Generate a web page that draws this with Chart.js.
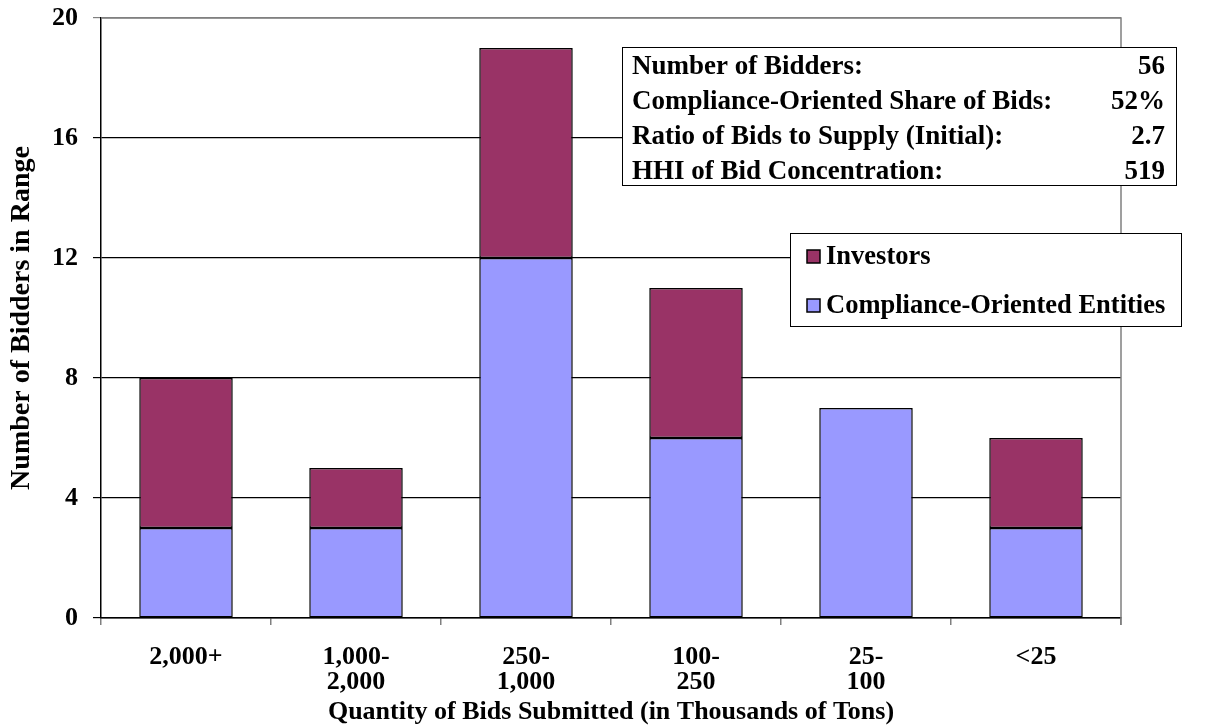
<!DOCTYPE html>
<html>
<head>
<meta charset="utf-8">
<script src="https://cdn.jsdelivr.net/npm/chart.js@4"></script>
<style>
  html, body { margin: 0; padding: 0; background: #fff; }
  #wrap { width: 1231px; height: 728px; position: relative; }
</style>
</head>
<body>
<div id="wrap"><canvas id="chart" width="1231" height="728"></canvas></div>
<script>
const categories = [['2,000+'], ['1,000-', '2,000'], ['250-', '1,000'], ['100-', '250'], ['25-', '100'], ['<25']];
const compliance = [3, 3, 12, 6, 7, 3];
const investors = [5, 2, 7, 5, 0, 3];
const yTicks = [0, 4, 8, 12, 16, 20];

const statLabels = ['Number of Bidders:', 'Compliance-Oriented Share of Bids:', 'Ratio of Bids to Supply (Initial):', 'HHI of Bid Concentration:'];
const statValues = ['56', '52%', '2.7', '519'];

const legendItems = [
  { label: 'Investors', color: '#993366' },
  { label: 'Compliance-Oriented Entities', color: '#9999FF' }
];

const FONT = "'Liberation Serif', 'Times New Roman', serif";

// plot frame, stats box and legend box
const boxesPlugin = {
  id: 'boxes',
  beforeDatasetsDraw(chart) {
    const { ctx, chartArea } = chart;
    ctx.save();
    ctx.strokeStyle = '#808080';
    ctx.lineWidth = 1.5;
    ctx.beginPath();
    ctx.moveTo(chartArea.left, chartArea.top);
    ctx.lineTo(chartArea.right, chartArea.top);
    ctx.lineTo(chartArea.right, chartArea.bottom + 7);
    ctx.stroke();
    ctx.restore();
  },
  afterDraw(chart) {
    const ctx = chart.ctx;
    ctx.save();
    ctx.textBaseline = 'middle';

    // stats box
    ctx.font = 'bold 27px ' + FONT;
    ctx.fillStyle = '#fff';
    ctx.fillRect(622, 47, 554, 138);
    ctx.strokeStyle = '#000';
    ctx.lineWidth = 1;
    ctx.strokeRect(622.5, 47.5, 554, 138);
    ctx.fillStyle = '#000';
    statLabels.forEach((t, i) => {
      const y = 67 + i * 35;
      ctx.textAlign = 'left';
      ctx.fillText(t, 632, y);
      ctx.textAlign = 'right';
      ctx.fillText(statValues[i], 1165, y);
    });

    // legend box
    ctx.font = 'bold 26.5px ' + FONT;
    ctx.fillStyle = '#fff';
    ctx.fillRect(790, 233, 391, 93);
    ctx.strokeStyle = '#000';
    ctx.lineWidth = 1;
    ctx.strokeRect(790.5, 233.5, 391, 93);
    legendItems.forEach((item, i) => {
      const y = 256 + i * 49;
      ctx.fillStyle = item.color;
      ctx.fillRect(807, y - 6, 13, 13);
      ctx.lineWidth = 1.5;
      ctx.strokeStyle = '#000';
      ctx.strokeRect(807, y - 6, 13, 13);
      ctx.fillStyle = '#000';
      ctx.textAlign = 'left';
      ctx.fillText(item.label, 826, y + 1);
    });
    ctx.restore();
  }
};

const ctx = document.getElementById('chart').getContext('2d');
new Chart(ctx, {
  type: 'bar',
  data: {
    labels: categories,
    datasets: [
      {
        label: 'Compliance-Oriented Entities',
        data: compliance,
        backgroundColor: '#9999FF',
        borderColor: '#000',
        borderWidth: 1.5,
        borderSkipped: false
      },
      {
        label: 'Investors',
        data: investors,
        backgroundColor: '#993366',
        borderColor: '#000',
        borderWidth: c => (c.raw === 0 ? 0 : 1.5),
        borderSkipped: false
      }
    ]
  },
  options: {
    responsive: false,
    animation: false,
    layout: { padding: { top: 18, right: 110, left: 0, bottom: 0 } },
    datasets: { bar: { categoryPercentage: 1, barPercentage: 0.55 } },
    plugins: {
      legend: { display: false },
      tooltip: { enabled: false }
    },
    scales: {
      x: {
        stacked: true,
        afterFit: s => { s.height = 110; s.paddingLeft = 0; s.paddingRight = 0; },
        grid: {
          offset: true,
          drawOnChartArea: false,
          tickLength: 7,
          color: '#808080',
          lineWidth: 1.5
        },
        border: { color: '#000', width: 1.5 },
        ticks: {
          color: '#000',
          font: { family: FONT, size: 26, weight: 'bold', lineHeight: 0.95 },
          padding: 20,
          maxRotation: 0
        },
        title: {
          display: true,
          text: 'Quantity of Bids Submitted (in Thousands of Tons)',
          color: '#000',
          font: { family: FONT, size: 26, weight: 'bold' },
          padding: { top: 0, bottom: 0 }
        }
      },
      y: {
        stacked: true,
        min: 0,
        max: 20,
        afterFit: s => { s.width = 101; s.paddingTop = 0; s.paddingBottom = 0; },
        afterBuildTicks: s => { s.ticks = yTicks.map(v => ({ value: v })); },
        grid: {
          color: c => (c.tick && c.tick.value === 20 ? '#808080' : '#000'),
          lineWidth: 1.2,
          tickLength: 8
        },
        border: { color: '#000', width: 1.5 },
        ticks: {
          color: '#000',
          font: { family: FONT, size: 26, weight: 'bold' },
          padding: 15
        },
        title: {
          display: true,
          text: 'Number of Bidders in Range',
          color: '#000',
          font: { family: FONT, size: 28, weight: 'bold' },
          padding: { top: 5, bottom: 0 }
        }
      }
    }
  },
  plugins: [boxesPlugin]
});
</script>
</body>
</html>
